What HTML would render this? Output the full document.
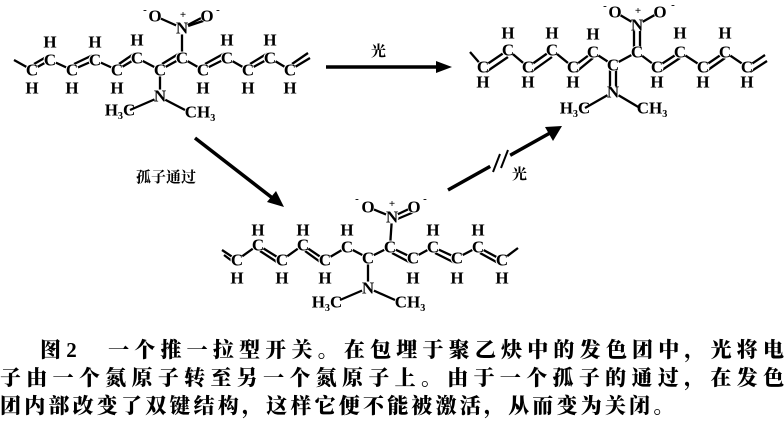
<!DOCTYPE html>
<html><head><meta charset="utf-8"><style>
html,body{margin:0;padding:0;background:#fff;width:784px;height:428px;overflow:hidden}
svg{position:absolute;left:0;top:0}
.a{font-family:"Liberation Serif",serif;font-weight:bold;font-size:17px;text-anchor:middle;dominant-baseline:central;fill:#000}
.s{font-size:11px}
.z{font-family:"Liberation Serif","Noto Serif CJK SC",serif;font-weight:bold;font-size:15px;fill:#000}
.cap{position:absolute;left:0;width:784px;font-family:"Liberation Serif","Noto Serif CJK SC",serif;font-weight:900;font-size:21px;color:#000;white-space:nowrap;text-align:justify;text-align-last:justify;line-height:27px}
</style></head><body>
<svg width="784" height="428" viewBox="0 0 784 428">
<g stroke="#000" stroke-width="2.3" fill="none">
<polyline points="14,60 32,70 50,60 72,70 95,60 117,70 137,58 160,70 182,58 203,70 227,58 248,70 270,58 290,70 310,58"/>
<line x1="34" y1="64" x2="48" y2="56"/><line x1="74" y1="64" x2="93" y2="55"/><line x1="119" y1="64" x2="135" y2="53"/><line x1="162" y1="64" x2="180" y2="53"/><line x1="205" y1="64" x2="225" y2="53"/><line x1="250" y1="64" x2="268" y2="53"/><line x1="292" y1="64" x2="308" y2="53"/>
<line x1="160" y1="70" x2="160" y2="97"/><line x1="160" y1="97" x2="130" y2="110"/><line x1="160" y1="97" x2="185" y2="110"/>
<line x1="182" y1="58" x2="182" y2="28"/><line x1="182" y1="28" x2="155" y2="16"/><line x1="182" y1="28" x2="205" y2="16"/><line x1="185" y1="27" x2="206" y2="20"/>
<polyline points="518,248 502,260 478,247 457,258 433,247 413,258 390,247 368,258 347,247 325,260 303,245 282,260 258,245 237,260 222,250"/>
<line x1="224" y1="255" x2="236" y2="264"/><line x1="260" y1="251" x2="280" y2="264"/><line x1="305" y1="251" x2="323" y2="264"/><line x1="392" y1="253" x2="411" y2="263"/><line x1="435" y1="253" x2="455" y2="263"/><line x1="480" y1="253" x2="500" y2="264"/>
<line x1="368" y1="258" x2="368" y2="288"/><line x1="368" y1="288" x2="340" y2="300"/><line x1="368" y1="288" x2="395" y2="300"/>
<line x1="390" y1="247" x2="392" y2="217"/><line x1="392" y1="217" x2="368" y2="207"/><line x1="392" y1="217" x2="413" y2="207"/><line x1="395" y1="220" x2="414" y2="212"/>
<polyline points="470,52 483,67 508,50 528,67 552,50 573,67 593,52 613,65 637,52 657,67 680,52 703,67 725,52 747,67 765,55"/>
<line x1="486" y1="72" x2="508" y2="57"/><line x1="531" y1="72" x2="552" y2="57"/><line x1="576" y1="72" x2="593" y2="58"/><line x1="659" y1="72" x2="680" y2="58"/><line x1="705" y1="72" x2="725" y2="58"/><line x1="750" y1="72" x2="767" y2="61"/>
<line x1="610" y1="65" x2="610" y2="92"/><line x1="616" y1="65" x2="616" y2="92"/><line x1="613" y1="92" x2="585" y2="108"/><line x1="613" y1="92" x2="640" y2="108"/>
<line x1="634" y1="52" x2="634" y2="25"/><line x1="640" y1="52" x2="640" y2="25"/><line x1="637" y1="25" x2="615" y2="12"/><line x1="637" y1="25" x2="660" y2="12"/>
<line x1="326" y1="67" x2="440" y2="67" stroke-width="3.5"/>
<line x1="195" y1="138" x2="275" y2="200" stroke-width="3.5"/>
<line x1="448" y1="190" x2="550" y2="133" stroke-width="3.5"/>
</g>
<g fill="#000">
<polygon points="452,67 436,61 436,73"/>
<polygon points="284,207 267,202 276,191"/>
<polygon points="562,126 545,127 553,141"/>
</g>
<line x1="490" y1="166" x2="510" y2="155" stroke="#fff" stroke-width="5"/>
<line x1="493" y1="172" x2="500" y2="154" stroke="#000" stroke-width="2"/><line x1="501" y1="168" x2="508" y2="150" stroke="#000" stroke-width="2"/>
<!-- white masks under atoms -->
<g fill="#fff">
<circle cx="32" cy="70" r="6.5"/><circle cx="50" cy="60" r="6.5"/><circle cx="72" cy="70" r="6.5"/><circle cx="95" cy="60" r="6.5"/><circle cx="117" cy="70" r="6.5"/><circle cx="137" cy="58" r="6.5"/><circle cx="160" cy="70" r="6.5"/><circle cx="182" cy="58" r="6.5"/><circle cx="203" cy="70" r="6.5"/><circle cx="227" cy="58" r="6.5"/><circle cx="248" cy="70" r="6.5"/><circle cx="270" cy="58" r="6.5"/><circle cx="290" cy="70" r="6.5"/>
<circle cx="160" cy="96" r="6.5"/><circle cx="182" cy="28" r="6.5"/><circle cx="155" cy="16" r="6.5"/><circle cx="207" cy="16" r="6.5"/>
<circle cx="237" cy="260" r="6.5"/><circle cx="258" cy="245" r="6.5"/><circle cx="282" cy="260" r="6.5"/><circle cx="303" cy="245" r="6.5"/><circle cx="325" cy="260" r="6.5"/><circle cx="347" cy="247" r="6.5"/><circle cx="368" cy="258" r="6.5"/><circle cx="390" cy="247" r="6.5"/><circle cx="413" cy="258" r="6.5"/><circle cx="433" cy="247" r="6.5"/><circle cx="457" cy="258" r="6.5"/><circle cx="478" cy="247" r="6.5"/><circle cx="502" cy="260" r="6.5"/>
<circle cx="368" cy="288" r="6.5"/><circle cx="392" cy="217" r="6.5"/><circle cx="368" cy="207" r="6.5"/><circle cx="414" cy="207" r="6.5"/>
<circle cx="483" cy="67" r="6.5"/><circle cx="508" cy="50" r="6.5"/><circle cx="528" cy="67" r="6.5"/><circle cx="552" cy="50" r="6.5"/><circle cx="573" cy="67" r="6.5"/><circle cx="593" cy="52" r="6.5"/><circle cx="613" cy="65" r="6.5"/><circle cx="637" cy="52" r="6.5"/><circle cx="657" cy="67" r="6.5"/><circle cx="680" cy="52" r="6.5"/><circle cx="703" cy="67" r="6.5"/><circle cx="725" cy="52" r="6.5"/><circle cx="747" cy="67" r="6.5"/>
<circle cx="613" cy="92" r="6.5"/><circle cx="637" cy="25" r="6.5"/><circle cx="615" cy="12" r="6.5"/><circle cx="660" cy="12" r="6.5"/>
</g>
<g class="a">
<text x="32" y="70">C</text><text x="50" y="60">C</text><text x="72" y="70">C</text><text x="95" y="60">C</text><text x="117" y="70">C</text><text x="137" y="58">C</text><text x="160" y="70">C</text><text x="182" y="58">C</text><text x="203" y="70">C</text><text x="227" y="58">C</text><text x="248" y="70">C</text><text x="270" y="58">C</text><text x="290" y="70">C</text>
<text x="50" y="42">H</text><text x="95" y="42">H</text><text x="137" y="40">H</text><text x="227" y="40">H</text><text x="270" y="40">H</text>
<text x="32" y="88">H</text><text x="72" y="88">H</text><text x="117" y="88">H</text><text x="203" y="88">H</text><text x="248" y="88">H</text><text x="290" y="88">H</text>
<text x="160" y="96">N</text><text x="120" y="110">H₃C</text><text x="200" y="112">CH₃</text>
<text x="182" y="28">N</text><text x="155" y="16">O</text><text x="207" y="16">O</text>
</g>
<g class="a s"><text x="145" y="10">-</text><text x="183" y="15">+</text><text x="218" y="10">-</text></g>
<g class="a">
<text x="237" y="260">C</text><text x="258" y="245">C</text><text x="282" y="260">C</text><text x="303" y="245">C</text><text x="325" y="260">C</text><text x="347" y="247">C</text><text x="368" y="258">C</text><text x="390" y="247">C</text><text x="413" y="258">C</text><text x="433" y="247">C</text><text x="457" y="258">C</text><text x="478" y="247">C</text><text x="502" y="260">C</text>
<text x="258" y="230">H</text><text x="303" y="230">H</text><text x="347" y="230">H</text><text x="433" y="230">H</text><text x="478" y="230">H</text>
<text x="237" y="278">H</text><text x="282" y="278">H</text><text x="325" y="278">H</text><text x="413" y="278">H</text><text x="457" y="278">H</text><text x="502" y="278">H</text>
<text x="368" y="288">N</text><text x="327" y="302">H₃C</text><text x="410" y="302">CH₃</text>
<text x="392" y="217">N</text><text x="368" y="207">O</text><text x="414" y="207">O</text>
</g>
<g class="a s"><text x="357" y="199">-</text><text x="392" y="204">+</text><text x="425" y="199">-</text></g>
<g class="a">
<text x="483" y="67">C</text><text x="508" y="50">C</text><text x="528" y="67">C</text><text x="552" y="50">C</text><text x="573" y="67">C</text><text x="593" y="52">C</text><text x="613" y="65">C</text><text x="637" y="52">C</text><text x="657" y="67">C</text><text x="680" y="52">C</text><text x="703" y="67">C</text><text x="725" y="52">C</text><text x="747" y="67">C</text>
<text x="508" y="33">H</text><text x="552" y="33">H</text><text x="593" y="34">H</text><text x="680" y="33">H</text><text x="725" y="33">H</text>
<text x="483" y="82">H</text><text x="528" y="82">H</text><text x="573" y="82">H</text><text x="657" y="82">H</text><text x="703" y="82">H</text><text x="747" y="82">H</text>
<text x="613" y="92">N</text><text x="575" y="108">H₃C</text><text x="652" y="108">CH₃</text>
<text x="637" y="25">N</text><text x="615" y="12">O</text><text x="660" y="12">O</text>
</g>
<g class="a s"><text x="605" y="6">-</text><text x="638" y="11">+</text><text x="673" y="5">-</text></g>
<text class="z" x="371" y="56">光</text>
<text class="z" x="512" y="179">光</text>
<text class="z" x="136" y="182">孤子通过</text>
</svg>
<div class="cap" style="top:337px;left:40px;width:744px">图2　一个推一拉型开关。在包埋于聚乙炔中的发色团中，光将电</div>
<div class="cap" style="top:365px">子由一个氮原子转至另一个氮原子上。由于一个孤子的通过，在发色</div>
<div class="cap" style="top:393px;text-align-last:left;letter-spacing:3.2px">团内部改变了双键结构，这样它便不能被激活，从而变为关闭。</div>
</body></html>
